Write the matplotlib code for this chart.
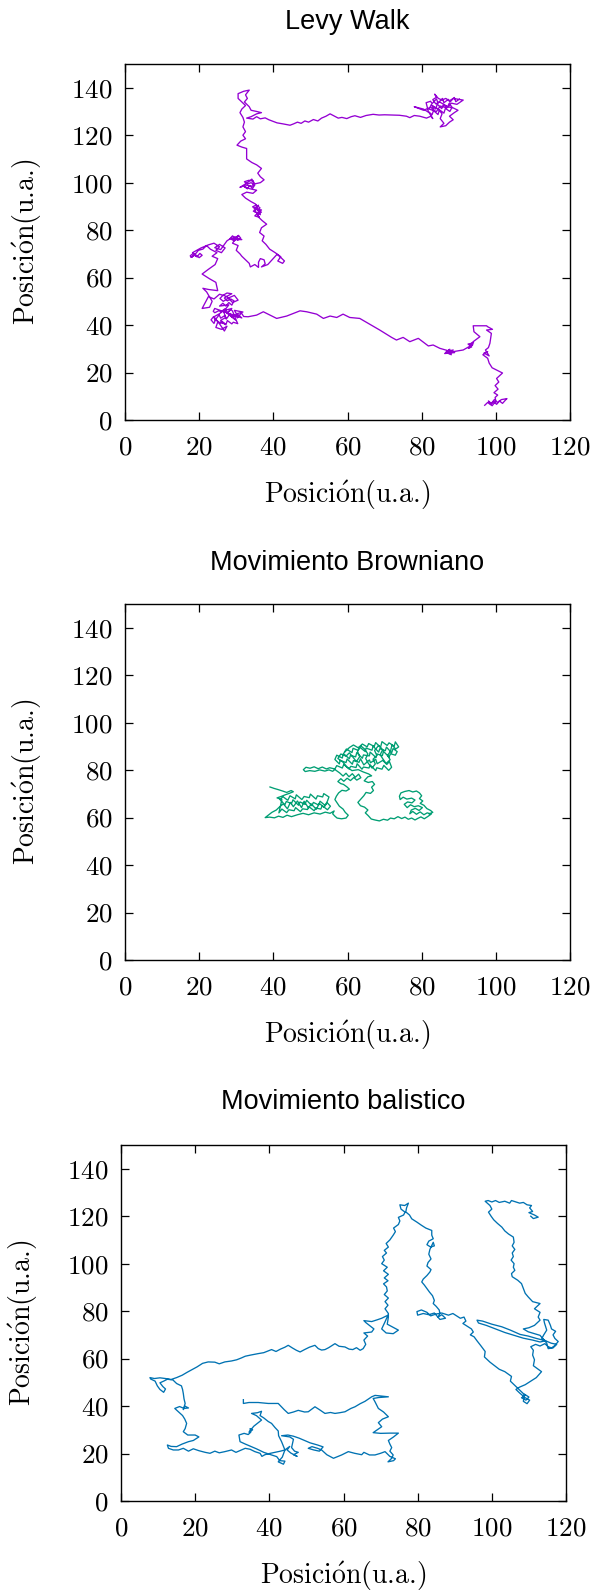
import matplotlib
matplotlib.use("Agg")
import matplotlib.pyplot as plt

plt.rcParams['font.family'] = 'cmr10'
plt.rcParams['mathtext.fontset'] = 'cm'
plt.rcParams['axes.formatter.use_mathtext'] = True

# ---------------- data ----------------
titles = ["Levy Walk", "Movimiento Browniano", "Movimiento balistico"]
x_ticks = [0, 20, 40, 60, 80, 100, 120]
y_ticks = [0, 20, 40, 60, 80, 100, 120, 140]
axis_label = r"Posici$\mathrm{\acute{o}}$n(u.a.)"
colors = ["#9400D3", "#009E73", "#0072B2"]

levy_path = [
    (97.0,6.2),(97.8,7.4),(98.6,6.4),(99.4,7.8),(100.2,6.6),(101.0,8.0),(101.8,7.0),(102.6,8.4),(103.0,9.0),
    (101.5,8.6),(100.4,7.4),(99.6,8.6),(98.8,7.0),(98.0,8.0),(99.0,6.0),(100.0,8.0),
    (99.8,9.5),(100.5,10.5),(99.5,11.5),(100.6,13.0),(99.8,14.5),(100.8,16.0),(100.2,17.5),(101.8,19.8),
    (99.0,22.0),(98.2,24.0),(97.8,26.0),(96.5,27.5),(97.8,28.8),(96.8,28.2),(98.2,27.0),(97.2,29.5),(98.0,30.5),
    (98.4,32.3),(98.8,36.5),(97.5,37.9),(99.1,38.2),(97.8,39.3),(97.5,39.7),(95.7,39.7),(93.9,39.7),(94.1,37.2),
    (95.7,35.1),(93.9,33.0),(93.0,31.5),(94.0,32.5),(92.5,32.0),(93.5,30.8),(92.6,30.2),(93.8,31.8),(91.2,29.5),
    (88.5,28.8),(87.5,28.0),(88.5,29.5),(87.0,29.0),(88.0,27.5),(86.5,28.5),(87.6,29.8),(86.2,28.0),(88.9,28.4),
    (84.9,30.2),(83.1,31.6),(81.8,31.2),(79.1,34.4),(76.8,33.0),
    (75.0,34.8),(73.2,33.7),(71.9,34.8),(68.7,37.9),(63.3,42.8),(60.6,43.2),(58.8,44.6),(57.1,43.2),(55.3,43.8),
    (53.5,42.8),(51.7,44.6),(49.0,45.6),(47.2,46.0),(45.4,44.9),(43.6,43.8),(40.9,42.8),(39.1,44.2),(37.3,45.6),
    (35.5,44.2),(33.2,43.5),
    (32.0,43.6),(31.4,45.1),(30.3,43.0),(29.9,44.4),(28.8,43.3),(28.4,44.9),(27.3,42.5),(26.9,44.0),(25.8,42.9),
    (25.4,44.3),(24.3,42.1),(23.9,43.6),(23.2,42.2),(24.0,40.7),(24.4,42.3),(25.6,40.9),(26.0,41.6),(27.2,40.1),
    (27.6,41.9),(28.8,40.5),(29.2,41.2),(30.4,40.6),(30.0,42.0),(29.0,45.9),(28.6,46.5),(27.4,45.1),(27.0,46.9),
    (25.8,45.5),(25.4,46.1),(24.2,45.2),(23.8,45.8),(24.2,47.0),
    (31.5,43.0),(30.2,44.8),(31.8,45.5),(29.5,46.2),(30.5,43.5),(28.5,44.0),(29.8,42.2),
    (27.5,45.0),(28.8,47.0),(26.5,46.0),(27.2,43.2),(25.8,42.0),(27.0,40.5),(25.0,41.2),(24.5,39.0),(26.0,38.2),
    (27.5,39.5),(26.8,37.5),(25.5,40.5),(24.0,43.5),(25.5,44.8),(27.0,46.5),(28.0,48.5),
    (25.5,48.0),(26.4,49.2),(27.2,48.0),(28.0,49.5),(28.8,48.4),(29.4,50.2),(28.5,51.0),(27.6,50.2),(26.8,51.4),
    (27.8,52.4),(28.8,53.2),(27.5,53.5),(26.4,52.5),(25.6,51.2),
    (26.5,50.0),(28.0,51.5),
    (29.5,52.5),(30.5,50.5),(29.0,49.5),(27.5,52.0),(25.5,53.0),(24.0,51.0),(22.5,52.0),(21.5,49.0),(20.8,47.0),
    (22.8,47.5),(23.5,50.0),(22.0,54.0),(21.0,55.5),(22.5,55.0),(25.0,54.5),(24.5,58.0),(22.8,59.5),(20.8,61.5),
    (22.5,63.5),(24.3,65.5),(25.0,68.0),(23.5,69.0),(24.8,70.5),(23.0,72.0),(22.0,73.5),(21.0,72.0),(19.8,71.5),
    (19.0,70.0),(18.0,68.6),(18.8,69.8),(19.4,68.8),(20.2,70.2),(20.8,69.4),(20.0,68.4),(19.2,69.4),(18.4,70.2),
    (17.6,69.2),(17.8,68.5),(18.5,69.5),(19.5,68.8),(18.2,70.5),(20.5,72.5),(22.5,73.8),(24.0,74.5),(25.5,73.0),
    (24.5,71.5),(26.0,70.5),(27.0,72.5),(25.5,74.0),(24.2,72.6),(25.8,71.8),(27.5,75.5),(28.5,76.5),(29.5,75.5),
    (30.5,77.5),(28.2,76.2),(29.0,77.6),(29.8,76.4),(30.6,77.8),(31.2,76.6),(30.4,75.8),(29.6,77.0),(28.8,76.0),
    (31.5,76.0),(30.0,76.8),(29.0,74.5),(30.5,73.5),(30.0,71.5),(31.0,70.0),(31.5,69.0),(32.5,67.5),(33.5,66.0),
    (33.8,64.5),(35.0,65.5),(36.0,64.3),(36.0,66.5),(36.5,68.0),(37.5,67.5),(37.8,65.8),(36.8,64.5),(38.5,65.5),
    (39.5,67.2),(41.0,69.8),(42.0,68.5),(43.0,67.0),(42.5,66.0),(41.2,67.0),(42.0,68.8),(40.5,70.5),(39.0,72.0),
    (38.0,74.0),(37.0,75.5),(37.5,77.5),(36.3,79.0),(36.8,81.0),(38.2,82.5),(37.0,84.0),(36.0,85.5),
    (35.0,86.0),(35.8,87.2),(34.6,88.0),(35.6,89.0),(34.4,89.8),(35.4,90.6),(36.4,89.4),(35.8,88.2),(36.8,87.6),
    (35.6,86.6),(36.2,85.4),(35.5,87.0),(36.8,88.5),
    (34.8,89.0),(36.0,90.5),(35.0,87.8),(36.5,86.5),(35.2,91.0),(34.0,92.0),(32.5,93.5),(31.5,95.0),(32.8,96.0),
    (34.5,95.5),(35.5,96.8),(33.5,97.5),
    (32.0,98.5),(33.0,97.4),(33.6,98.8),(34.4,97.6),(35.0,99.0),(34.0,100.0),(33.0,99.4),(32.2,100.4),(33.4,101.0),
    (34.6,100.6),(34.5,98.5),(32.5,99.0),(31.0,98.0),(33.0,100.0),(34.2,101.5),(35.0,99.5),
    (36.5,100.0),(37.5,101.2),(36.5,102.5),(35.8,104.0),(36.8,106.0),(35.5,107.5),(34.2,108.5),(32.8,110.0),
    (32.8,112.0),(32.8,114.4),(31.5,115.0),(30.2,115.8),(31.2,117.5),(32.5,118.5),(31.8,120.0),(32.5,121.5),
    (31.8,123.5),(32.2,125.5),(31.8,127.5),(31.0,129.5),(31.5,131.0),(32.5,132.5),(31.5,134.0),(30.5,135.5),
    (30.5,137.5),(32.0,138.5),(33.5,139.0),(32.5,137.0),(33.0,135.5),(32.2,134.0),(33.5,132.0),(34.0,130.5),
    (35.5,130.0),(36.8,129.5),(35.5,129.0),(34.0,127.8),(32.8,127.2),(34.5,126.8),(35.5,127.8),(36.5,126.9),
    (37.8,127.3),(38.8,126.5),(40.0,125.8),(41.0,125.2),(42.5,124.8),(44.5,124.2),(45.5,124.8),(46.5,125.5),
    (47.5,125.0),(48.5,126.0),(49.5,125.5),(50.8,126.6),(52.0,126.0),(53.0,127.2),(54.2,128.0),(55.3,129.0),
    (56.5,128.0),(57.5,127.2),(58.5,127.5),(59.8,127.0),(61.0,127.8),(62.0,128.2),(63.5,127.5),(65.0,128.3),
    (66.9,128.8),(68.5,128.5),(70.0,128.6),(72.0,128.5),(74.0,128.4),(75.9,128.0),(76.8,127.4),(78.0,128.3),
    (79.5,128.0),(81.3,127.2),(82.5,128.0),(83.0,127.0),(82.0,129.5),(80.5,131.0),(78.0,132.0),(80.5,130.5),
    (82.5,131.8),(83.5,130.0),(82.8,132.5),(84.5,131.0),(85.5,129.0),(85.0,127.0),(86.0,125.0),(85.0,123.5),
    (86.5,124.0),(87.5,125.5),(88.5,126.5),(87.5,128.0),(88.8,129.5),(89.8,130.5),(88.5,131.5),(87.0,132.0),
    (86.0,133.0),(84.8,134.0),(83.8,133.2),(83.0,135.0),(84.0,136.0),(83.5,137.3),(84.5,135.5),(85.5,134.8),
    (86.5,135.5),(87.5,134.5),(88.5,135.5),(90.5,135.0),(91.2,134.8),(89.5,133.0),(88.0,133.5),(86.8,131.5),
    (85.0,132.3),(84.0,130.0),
    (82.0,131.0),(82.6,132.9),(83.8,131.0),(84.2,133.1),(85.4,131.2),(85.8,132.7),(87.0,131.9),(87.4,133.4),
    (88.2,131.8),(87.6,130.0),(86.4,131.3),(86.0,129.3),(84.8,130.7),(84.4,128.7),(83.2,130.4),(82.8,128.6),
    (81.8,130.0),(81.2,133.7),(82.4,134.3),(82.8,133.3),(84.0,135.3),(84.4,133.5),(85.6,135.5),(86.0,133.7),
    (87.2,135.1),(87.6,133.9),(88.8,135.9),(89.2,134.1),(90.2,135.2),
]

brown_path = [
    (39.1,72.9),(40.2,72.3),(41.3,71.8),(42.5,71.2),(43.6,70.6),(44.8,71.4),(45.4,70.9),(44.3,70.2),(43.2,69.6),
    (42.1,68.9),(41.0,68.3),(42.3,67.6),(41.5,62.0),(42.3,63.6),(43.6,62.1),(44.2,63.3),(45.6,62.9),(46.0,64.2),
    (47.3,62.5),(47.9,63.7),(49.2,63.4),(49.6,64.6),(51.0,62.9),(51.5,64.0),(52.8,63.6),(53.2,65.0),(54.6,63.3),
    (55.4,64.8),(54.5,66.3),(54.0,65.1),(52.6,66.9),(52.2,65.3),(50.8,66.4),(50.4,65.0),(49.0,67.3),(48.5,65.6),
    (47.2,66.6),(46.8,65.2),(45.3,67.5),(44.9,65.9),(43.5,66.8),(43.1,65.4),(41.8,67.6),(42.6,68.8),(43.9,67.3),
    (44.5,69.2),(45.9,67.9),(46.2,69.6),(47.7,67.6),(48.3,68.9),(49.7,68.4),(50.0,69.9),(51.5,67.8),(51.9,69.2),
    (53.3,68.7),(53.6,70.1),(55.0,68.7),(54.6,67.0),(53.7,64.3),(52.4,66.0),(51.6,63.5),(50.2,65.8),(49.5,64.0),
    (48.3,66.9),(47.6,64.2),(46.5,67.0),(45.4,64.6),(44.6,66.4),(43.8,63.7),(42.7,65.8),(41.6,64.4),(40.8,63.2),
    (39.6,62.2),(38.6,61.0),(37.8,60.0),(39.0,60.2),(40.3,59.9),(41.4,60.6),(42.6,60.1),(43.7,61.0),(44.9,60.4),
    (46.5,61.2),(48.0,61.8),(49.5,61.2),(51.0,62.0),(52.6,61.5),(54.0,62.3),(55.3,61.8),(56.4,62.8),(56.0,61.6),
    (56.6,60.6),(57.2,59.8),(58.4,59.5),(59.6,59.8),(60.2,61.0),(59.4,62.2),(58.8,63.6),(57.8,64.8),(57.2,66.2),
    (56.6,67.6),(57.0,69.0),(57.6,70.4),(58.5,71.5),(59.6,71.2),(60.5,72.0),(59.8,73.0),(58.9,74.0),(58.2,74.3),
    (57.4,75.2),(58.2,76.4),(59.0,75.3),(59.9,76.6),(60.8,75.6),(61.7,76.9),(62.5,75.8),(63.6,76.8),(63.0,78.3),
    (62.1,77.0),(61.3,78.5),(60.4,77.2),(59.6,78.7),(58.8,77.5),(57.9,78.8),(57.2,79.6),(56.3,80.6),(55.2,81.0),
    (54.3,80.5),(53.2,81.3),(52.1,80.6),(51.0,81.4),(49.9,80.8),(48.8,81.2),(48.1,80.2),(48.6,79.4),(49.8,79.8),
    (51.2,79.5),(52.5,80.1),(53.9,79.6),(55.0,80.1),(56.0,79.5),
    (56.5,80.2),(57.1,81.9),(58.6,80.9),(59.0,82.4),(60.4,80.5),(60.9,81.6),(62.3,81.1),(62.6,82.7),(63.9,80.4),
    (64.3,81.3),(65.8,80.9),(66.1,82.2),(67.6,79.8),(67.9,81.0),(69.3,80.4),(69.8,82.0),(71.1,79.9),(71.9,81.2),
    (71.3,83.6),(70.6,82.4),(69.5,84.1),(68.0,82.7),(67.6,84.6),(66.2,83.1),(65.9,84.3),(64.4,82.2),(63.5,84.8),
    (63.1,83.3),(61.6,84.0),(61.3,82.5),(59.9,84.7),(59.6,83.2),(58.0,84.1),(57.8,82.6),(56.6,84.5),
    (57.1,86.3),(58.6,85.1),(58.9,87.0),(60.5,84.8),(60.8,86.2),(62.2,85.6),(62.5,87.4),(64.0,85.0),(64.3,86.4),
    (65.9,86.0),(66.1,87.6),(67.7,85.3),(68.0,86.8),(69.4,86.1),(69.7,87.9),(71.2,85.5),(71.6,86.9),(72.9,86.3),
    (73.4,87.8),(72.3,89.1),(71.9,87.3),(70.5,89.7),(70.2,88.2),(68.7,89.0),(68.4,87.6),(66.9,90.1),(66.6,88.4),
    (65.0,89.3),(64.8,87.8),(63.2,89.8),(62.9,88.3),(61.5,89.2),(61.2,87.4),(59.7,88.9),(59.1,87.4),
    (60.5,89.5),(61.6,90.6),(62.9,89.4),(64.0,91.0),(65.3,89.8),(65.7,91.2),(67.2,90.0),(67.6,91.6),(68.9,89.6),
    (69.3,92.0),(70.7,90.4),(71.2,91.5),(72.6,90.1),(72.9,91.9),(73.8,89.8),
    (73.0,88.9),(72.0,90.6),(71.6,88.0),(70.8,86.2),(71.5,84.4),(70.4,82.8),(69.6,84.6),(68.8,86.5),(69.5,88.6),
    (68.4,90.4),(67.3,88.3),(67.9,86.2),(66.9,84.6),(67.5,82.6),(66.6,80.9),(65.6,82.9),(64.9,84.9),(65.5,86.8),
    (64.6,88.9),(63.6,90.2),(62.7,87.9),(63.3,85.7),(62.4,83.6),(61.4,85.6),(60.5,87.3),(59.6,85.9),(58.2,86.8),
    (57.4,84.9),(58.7,83.5),(59.8,81.4),(61.2,79.8),(62.9,80.2),(64.3,79.2),(65.7,78.4),(66.5,77.6),(65.5,77.2),
    (64.5,75.5),(65.6,74.8),(66.7,75.2),(67.3,74.0),(66.5,72.8),
    (67.0,71.4),(66.2,70.2),(65.0,70.6),(64.4,69.2),(63.6,67.8),(62.8,66.4),(63.5,65.0),(64.6,64.4),(65.5,63.2),
    (64.8,62.0),(65.6,60.8),(66.4,59.4),(67.4,59.0),(68.6,58.6),(69.7,59.3),(70.8,58.9),(71.6,59.8),(72.6,59.5),
    (73.6,60.4),(74.6,59.6),(75.5,60.2),(76.4,59.3),(77.3,59.8),(78.2,59.0),(79.0,59.7),(79.8,60.3),(80.7,59.5),
    (81.6,60.4),(82.6,61.5),(81.5,62.0),(80.6,61.2),(79.6,62.4),(78.6,61.4),(77.6,62.6),(76.8,61.6),(77.2,63.2),
    (78.3,63.9),(79.3,63.0),(80.2,64.2),(79.1,65.0),(78.0,64.6),(77.0,65.4),(76.1,64.2),(75.3,65.6),(76.2,66.6),
    (77.4,66.2),(78.2,67.4),(77.3,68.2),(76.0,67.8),(75.0,68.6),(74.2,67.6),(74.0,69.0),(74.4,70.4),(75.4,71.0),
    (76.6,71.4),(77.6,70.8),(78.6,71.2),(79.4,70.4),(80.0,69.2),(79.4,68.0),(80.3,67.0),(79.6,66.0),(80.6,65.2),
    (81.4,63.8),(82.4,63.0),(83.0,62.2),(82.0,61.6),
]

ballistic_path = [
    (33.0,42.7),(33.0,41.1),(34.5,41.5),(37.0,41.5),(39.7,41.1),(42.4,41.1),(44.0,38.5),(45.1,36.9),(46.5,37.5),
    (47.8,38.2),(49.5,37.5),(50.5,37.6),(52.3,39.7),(53.5,38.5),(55.0,36.9),(56.5,37.3),(57.7,36.9),(59.0,37.2),
    (60.4,37.6),(62.0,39.0),(63.1,39.7),(64.5,41.0),(65.8,42.0),(67.6,43.9),(68.5,44.5),(70.3,44.2),(72.1,43.9),
    (69.5,43.6),(68.0,43.2),(68.5,41.8),(69.4,39.0),(70.8,37.5),(72.1,35.5),(70.5,34.5),(69.4,33.0),(70.3,31.3),
    (69.0,29.9),(68.0,28.8),(70.0,28.5),(72.5,28.6),(74.8,28.6),(73.5,27.0),(72.1,25.5),(72.5,24.0),(73.0,22.5),
    (72.5,21.0),(73.4,19.4),(73.0,18.0),(72.0,16.5),(73.5,17.0),(74.0,17.8),(72.5,18.8),(71.2,20.8),(70.0,20.1),
    (68.5,19.4),(67.0,19.4),(65.5,20.5),(64.9,19.5),(63.0,20.1),(61.3,20.8),(59.5,19.4),(57.3,18.0),(55.5,19.5),
    (54.1,21.5),(53.0,22.2),(51.5,22.9),(50.5,22.2),(52.0,21.5),(53.5,21.0),(54.5,22.8),(53.0,23.6),(51.0,24.5),
    (49.5,25.5),(48.0,26.5),(46.5,27.3),(45.0,27.8),(43.3,27.5),(45.5,27.0),(46.5,26.0),(46.2,24.0),(46.0,22.5),
    (46.8,21.0),(47.8,20.5),(46.5,19.5),(47.5,18.8),(45.8,20.2),(44.8,21.5),(45.5,23.0),(44.2,21.5),(43.5,18.5),
    (42.4,16.5),(43.8,15.5),(44.2,16.8),(42.8,17.0),(42.0,18.7),(40.6,19.4),(38.5,20.5),(36.5,22.0),(35.0,23.0),
    (33.5,24.0),(32.1,25.0),(31.8,27.8),(33.2,28.5),(34.3,28.0),(35.0,29.0),(34.8,30.5),(35.5,30.0),(34.5,29.0),
    (35.8,31.5),(37.0,33.0),(37.9,34.1),(36.5,36.0),(35.2,36.9),(36.8,37.2),(37.9,37.8),(37.5,36.0),(38.5,35.0),
    (39.7,33.5),(40.6,32.7),(41.5,31.0),(42.4,29.5),(42.5,27.5),(43.3,25.0),(43.8,23.0),(44.2,21.5),(43.0,21.0),
    (41.5,20.5),(40.0,20.0),(38.8,19.5),(38.0,18.8),(37.5,20.1),(36.1,20.8),(34.8,21.8),(33.5,22.2),(32.5,21.5),
    (31.0,20.5),(29.8,21.5),(28.0,20.8),(26.5,20.3),(25.3,21.0),(24.0,20.1),(22.7,20.5),(21.0,21.2),(19.5,22.0),
    (18.2,21.0),(16.8,22.2),(15.5,21.5),(14.1,21.5),(12.8,22.2),(12.5,23.6),(13.5,23.0),(15.0,22.9),(16.5,24.0),
    (18.2,25.0),(19.5,25.5),(21.0,27.0),(20.0,27.8),(18.0,27.8),(16.8,29.2),(17.3,30.5),(17.7,32.7),(17.2,34.5),
    (16.6,36.0),(15.5,37.6),(14.5,39.0),(15.8,39.8),(17.0,39.0),(18.2,39.2),(17.2,40.0),(16.8,38.5),(17.3,41.1),
    (17.0,43.0),(16.8,45.3),(16.6,47.0),(16.3,48.5),(15.0,49.5),(14.0,51.0),(12.5,51.3),(11.5,50.5),(10.5,49.8),
    (11.3,48.2),(12.0,47.2),(11.5,45.8),(10.5,47.0),(9.8,48.5),(9.2,50.5),(8.0,51.4),(7.8,52.0),(9.0,51.6),
    (10.5,51.9),(12.0,51.6),(13.5,51.2),(15.0,52.0),(16.5,53.0),(17.8,54.2),(19.0,55.2),(20.5,56.5),(22.0,58.0),
    (23.5,58.6),(25.3,58.5),(26.5,57.8),(28.0,58.6),(29.8,59.0),(31.2,59.5),(32.5,60.3),(33.5,61.0),(35.0,61.5),
    (37.0,62.1),(38.5,62.5),(39.8,63.3),(40.6,63.8),(41.8,63.0),(43.0,64.0),(44.2,64.8),(45.1,65.6),(46.2,64.5),
    (47.3,63.5),(48.3,62.8),(49.5,63.8),(50.8,64.8),(52.3,65.6),(53.2,64.2),(54.1,63.6),(55.0,63.8),(56.0,64.6),
    (57.7,66.3),(58.8,65.2),(60.4,64.9),(61.5,64.0),(62.5,63.8),(63.5,64.6),(64.5,63.5),(65.3,64.2),(66.0,66.0),
    (65.5,67.8),(66.5,69.5),(65.5,70.8),(67.6,71.2),(68.2,72.5),(67.0,74.0),(66.0,75.2),(65.5,76.0),(67.6,75.6),
    (69.0,76.3),(70.3,77.0),(72.0,78.3),(71.2,75.5),(70.3,72.5),(71.5,70.8),(73.4,70.5),(74.8,72.0),(73.0,73.5),
    (71.8,74.5),(72.1,77.5),(72.1,79.0),(71.2,81.0),(72.0,82.5),(71.2,84.0),(72.1,85.5),(71.0,87.0),(71.8,88.5),
    (71.6,90.2),(70.8,91.5),(72.0,92.8),(71.0,94.0),(72.1,95.5),(70.8,97.0),(71.8,98.5),(70.3,100.0),(71.0,101.5),
    (70.5,103.0),(71.6,104.5),(71.0,105.6),(72.1,107.0),(71.5,108.5),(72.5,110.0),(73.4,112.0),(74.0,113.5),
    (73.5,115.0),(74.8,116.5),(75.2,118.0),(74.8,119.5),(76.2,120.5),(76.6,121.7),(75.5,123.0),(75.2,124.8),
    (76.5,124.5),(77.5,125.5),(77.0,123.5),(76.8,121.8),(77.8,120.5),(78.4,118.9),(79.8,117.5),(81.0,116.2),
    (82.2,115.0),(83.8,114.0),(83.8,112.0),(84.2,110.5),(83.0,109.5),(82.5,108.0),(83.5,107.0),(84.5,107.5),
    (84.2,109.0),(83.3,106.0),(83.0,104.0),(83.6,102.0),(82.8,100.5),(82.5,99.0),(83.6,97.5),(83.3,96.5),
    (82.5,95.0),(81.5,93.5),(81.1,92.3),(81.8,91.0),(82.5,89.5),(83.2,88.0),(84.0,86.5),(84.5,84.5),(84.2,83.2),
    (85.0,82.0),(85.8,80.5),(86.0,79.0),(85.5,77.5),(86.5,78.5),(87.5,77.0),(86.0,76.5),(84.5,79.2),(83.0,78.5),
    (81.5,79.0),(80.0,78.3),(79.8,79.8),(81.0,80.5),(82.5,79.5),(83.5,78.0),(85.0,78.8),(86.5,79.2),(88.3,78.3),
    (89.5,79.0),(90.5,78.0),(91.5,77.0),(92.5,77.5),(93.0,75.8),(92.2,74.8),(93.5,73.5),(94.5,72.5),(95.0,71.2),
    (94.2,70.0),(95.2,69.2),(96.0,67.5),(97.0,65.5),(98.2,63.0),(98.0,60.7),(99.5,58.5),(100.9,56.8),(102.0,55.5),
    (103.5,54.5),(105.3,52.5),(105.0,50.5),(106.0,49.0),(107.0,47.5),(108.0,46.0),(109.0,44.5),(108.0,43.5),
    (109.2,42.5),(110.0,43.8),(108.8,45.0),(108.5,42.0),(109.5,41.0),(110.2,42.5),(109.0,43.5),(107.5,45.5),
    (106.5,47.0),(107.5,48.0),(109.0,49.0),(110.5,50.5),(112.0,52.0),(113.4,54.5),(112.5,55.5),(111.2,57.0),
    (111.5,59.5),(111.0,61.5),(111.2,63.5),(110.5,65.0),(111.8,66.0),(113.0,65.3),(114.3,66.3),(115.2,65.0),
    (116.1,64.5),(117.0,65.5),(117.9,67.2),(117.0,68.5),(116.5,70.0),(117.2,71.5),(116.1,72.5),(115.8,74.0),
    (115.2,76.2),(114.0,76.5),(114.2,75.0),(114.8,72.0),(114.0,70.0),(113.5,68.5),(114.5,67.5),(113.0,67.0),
    (111.0,67.8),(108.5,68.6),(106.0,69.8),(103.5,71.0),(101.0,72.5),(98.5,74.0),(96.4,75.0),(96.0,76.2),
    (97.5,75.8),(100.0,74.5),(102.7,73.4),(105.0,72.0),(107.6,70.2),(109.8,69.5),(112.0,68.5),(114.5,67.5),
    (116.0,66.5),(117.5,66.0),(116.5,64.5),(115.2,64.2),(114.8,66.5),(113.0,69.8),(111.5,70.5),(109.8,71.3),
    (108.5,72.5),(110.0,73.0),(111.5,74.0),(113.0,76.2),(112.5,77.5),(113.0,79.5),(111.5,81.0),(113.0,83.2),
    (111.0,84.0),(109.8,86.0),(109.0,87.5),(108.5,89.5),(108.0,91.6),(107.0,93.0),(105.5,94.5),(105.3,95.8),
    (106.2,97.2),(105.8,98.5),(106.0,100.0),(105.2,101.5),(105.8,103.0),(105.5,104.5),(106.2,106.0),(105.5,107.5),
    (106.0,109.0),(105.8,111.2),(104.5,112.5),(103.5,113.8),(102.7,115.4),(101.5,117.0),(100.5,118.5),(99.8,120.0),
    (99.1,121.7),(100.0,123.0),(99.5,124.5),(98.2,126.3),(99.0,126.6),(100.0,126.0),(101.0,126.6),(102.0,125.8),
    (103.5,126.3),(104.8,125.5),(105.3,126.6),(106.5,126.0),(107.5,125.5),(108.5,125.8),(109.5,124.8),(110.7,124.5),
    (110.2,123.5),(111.0,122.0),(110.0,121.5),(111.5,120.5),(112.5,119.6),(111.2,119.0),(110.5,120.0),
]

paths = [levy_path, brown_path, ballistic_path]

# ---------------- layout ----------------
W, H = 594, 1593
fig = plt.figure(figsize=(W / 100, H / 100), dpi=100)

# (left, top, right, bottom) in pixels
boxes = [(125, 64, 570, 420), (125, 604, 570, 960), (121, 1145, 566, 1501)]
title_y = [22.3, 563.5, 1101.7]

for i, (l, t, r, b) in enumerate(boxes):
    ax = fig.add_axes([l / W, 1 - b / H, (r - l) / W, (b - t) / H])
    xs, ys = zip(*paths[i])
    ax.plot(xs, ys, color=colors[i], lw=0.95)
    ax.set_xlim(0, 120)
    ax.set_ylim(0, 150)
    ax.set_xticks(x_ticks)
    ax.set_yticks(y_ticks)
    ax.tick_params(direction='in', length=6, width=0.9, top=True, right=True,
                   labelsize=19.5, colors='black')
    ax.tick_params(axis='x', pad=11)
    ax.tick_params(axis='y', pad=9)
    for s in ax.spines.values():
        s.set_linewidth(1.0)
        s.set_color('black')
    ax.set_xlabel(axis_label, fontsize=20)
    ax.set_ylabel(axis_label, fontsize=20)
    ax.xaxis.set_label_coords(0.5, -75 / 356)
    ax.yaxis.set_label_coords(-98 / 445, 0.5)
    ax.xaxis.label.set_va('center')
    ax.yaxis.label.set_va('center')
    fig.text((l + r) / 2 / W, 1 - title_y[i] / H, titles[i], ha='center', va='center',
             fontsize=19.5, family=['Liberation Sans', 'DejaVu Sans'])

fig.savefig("out.png", dpi=100, facecolor='white')
